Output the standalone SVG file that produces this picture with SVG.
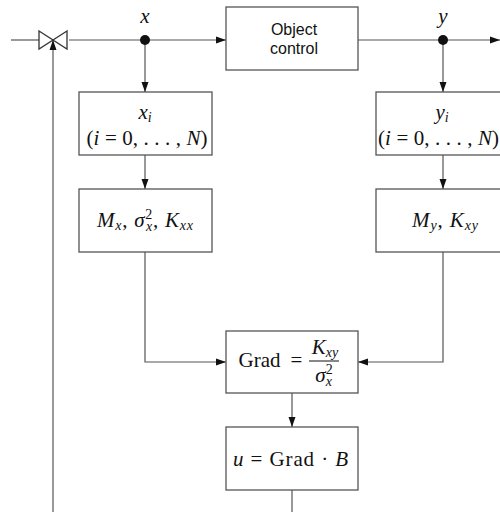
<svg xmlns="http://www.w3.org/2000/svg" width="500" height="512" viewBox="0 0 500 512">
<style>
.box{fill:#fff;stroke:#555;stroke-width:1.3}
.ln{fill:none;stroke:#555;stroke-width:1.2}
.m{font-family:"Liberation Serif","DejaVu Serif",serif;font-size:21px;fill:#111}
.i{font-style:italic}
.s{font-size:14px}
.sans{font-family:"Liberation Sans",Arial,sans-serif;font-size:16px;fill:#111}
</style>
<defs>
<marker id="ah" viewBox="0 0 10 10" refX="10" refY="5" markerWidth="10" markerHeight="10" markerUnits="userSpaceOnUse" orient="auto">
<path d="M0,1.5 L10,5 L0,8.5 Z" fill="#111"/>
</marker>
</defs>
<g id="connectors">
<line class="ln" x1="11" y1="40" x2="39" y2="40"/>
<line class="ln" x1="69" y1="40" x2="226" y2="40" marker-end="url(#ah)"/>
<line class="ln" x1="358" y1="40" x2="500" y2="40" marker-end="url(#ah)"/>
<line class="ln" x1="145" y1="40" x2="145" y2="92" marker-end="url(#ah)"/>
<line class="ln" x1="145" y1="155" x2="145" y2="189" marker-end="url(#ah)"/>
<polyline class="ln" points="145,252 145,362 226,362" marker-end="url(#ah)"/>
<line class="ln" x1="443" y1="40" x2="443" y2="92" marker-end="url(#ah)"/>
<line class="ln" x1="443" y1="155" x2="443" y2="189" marker-end="url(#ah)"/>
<polyline class="ln" points="443,252 443,362 358,362" marker-end="url(#ah)"/>
<line class="ln" x1="292" y1="393" x2="292" y2="427" marker-end="url(#ah)"/>
<line class="ln" x1="292" y1="490" x2="292" y2="512"/>
<line class="ln" x1="53" y1="512" x2="53" y2="40" marker-end="url(#ah)"/>
<circle cx="145" cy="40" r="5" fill="#111"/>
<circle cx="443" cy="40" r="5" fill="#111"/>
<text class="m i" x="145" y="23" text-anchor="middle">x</text>
<text class="m i" x="443" y="23" text-anchor="middle">y</text>
</g>
<g id="valve">
<path d="M39,31 L53,40 L39,49 Z M67,31 L53,40 L67,49 Z" fill="#fff" stroke="#333" stroke-width="1.3"/>
</g>
<g id="object">
<rect class="box" x="226" y="7" width="132" height="63"/>
<text class="sans" x="294" y="35" text-anchor="middle">Object</text>
<text class="sans" x="294" y="54" text-anchor="middle">control</text>
</g>
<g id="xi">
<rect class="box" x="79" y="92" width="133" height="63"/>
<text class="m" x="145" y="119" text-anchor="middle"><tspan class="i">x</tspan><tspan class="i s" dy="3">i</tspan></text>
<text class="m" x="147" y="145" text-anchor="middle" textLength="121" lengthAdjust="spacing">(<tspan class="i">i</tspan> = 0, . . . , <tspan class="i">N</tspan>)</text>
</g>
<g id="mx">
<rect class="box" x="79" y="189" width="133" height="63"/>
<text class="m" x="145" y="227" text-anchor="middle" textLength="96" lengthAdjust="spacing"><tspan class="i">M</tspan><tspan class="i s" dy="3">x</tspan><tspan dy="-3">, </tspan><tspan class="i">σ</tspan><tspan class="s" dy="-8">2</tspan><tspan class="i s" dx="-7" dy="12">x</tspan><tspan dy="-4">, </tspan><tspan class="i">K</tspan><tspan class="i s" dy="3">xx</tspan></text>
</g>
<g id="yi">
<rect class="box" x="376" y="92" width="134" height="63"/>
<text class="m" x="442" y="119" text-anchor="middle"><tspan class="i">y</tspan><tspan class="i s" dy="3">i</tspan></text>
<text class="m" x="438.5" y="145" text-anchor="middle" textLength="121" lengthAdjust="spacing">(<tspan class="i">i</tspan> = 0, . . . , <tspan class="i">N</tspan>)</text>
</g>
<g id="my">
<rect class="box" x="376" y="189" width="134" height="63"/>
<text class="m" x="445" y="227" text-anchor="middle" textLength="66" lengthAdjust="spacing"><tspan class="i">M</tspan><tspan class="i s" dy="3">y</tspan><tspan dy="-3">, </tspan><tspan class="i">K</tspan><tspan class="i s" dy="3">xy</tspan></text>
</g>
<g id="grad">
<rect class="box" x="226" y="331" width="132" height="62"/>
<text class="m" x="238.5" y="367">Grad</text>
<text class="m" x="296.5" y="367" text-anchor="middle">=</text>
<text class="m" x="325" y="354" text-anchor="middle"><tspan class="i">K</tspan><tspan class="i s" dy="3">xy</tspan></text>
<line x1="309" y1="361" x2="339" y2="361" stroke="#111" stroke-width="1"/>
<text class="m" x="324" y="382" text-anchor="middle"><tspan class="i">σ</tspan><tspan class="s" dy="-8">2</tspan><tspan class="i s" dx="-7" dy="12">x</tspan></text>
</g>
<g id="u">
<rect class="box" x="226" y="427" width="132" height="63"/>
<text class="m" x="290.5" y="466" text-anchor="middle" textLength="115" lengthAdjust="spacing"><tspan class="i">u</tspan> = Grad · <tspan class="i">B</tspan></text>
</g>
</svg>
